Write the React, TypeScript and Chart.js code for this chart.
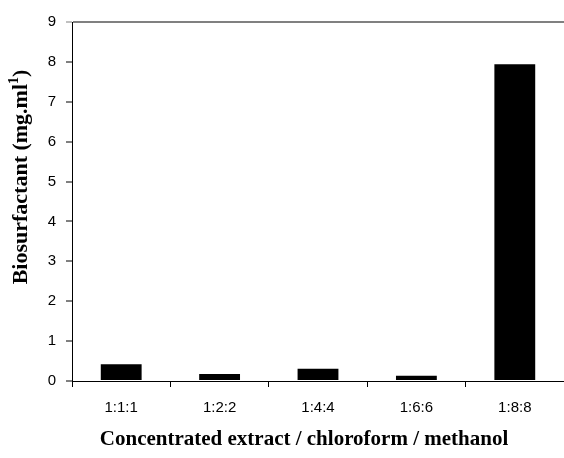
import React, { useEffect, useRef } from "react";
import { Chart, registerables } from "chart.js";

Chart.register(...registerables);

const categories = ["1:1:1", "1:2:2", "1:4:4", "1:6:6", "1:8:8"];
const biosurfactant = [0.42, 0.175, 0.31, 0.13, 7.94];
const yMin = 0;
const yMax = 9;
const yStep = 1;
const xTitle = "Concentrated extract / chloroform / methanol";
const yTitleMain = "Biosurfactant (mg.ml";
const yTitleSup = "1";
const yTitleEnd = ")";

const titlePlugin = {
  id: "axisTitles",
  afterDraw(chart: any) {
    const ctx = chart.ctx as CanvasRenderingContext2D;
    ctx.save();
    ctx.fillStyle = "#000";
    ctx.font = 'bold 21px "Liberation Serif", "Times New Roman", serif';
    ctx.textAlign = "center";
    ctx.textBaseline = "alphabetic";
    ctx.fillText(xTitle, 304, 445);

    // y title rotated
    ctx.translate(27, 177);
    ctx.rotate(-Math.PI / 2);
    ctx.textAlign = "left";
    const mainFont = 'bold 22px "Liberation Serif", "Times New Roman", serif';
    const supFont = 'bold 14px "Liberation Serif", "Times New Roman", serif';
    ctx.font = mainFont;
    const w1 = ctx.measureText(yTitleMain).width;
    const w3 = ctx.measureText(yTitleEnd).width;
    ctx.font = supFont;
    const w2 = ctx.measureText(yTitleSup).width;
    const total = w1 + w2 + w3;
    let x = -total / 2;
    ctx.font = mainFont;
    ctx.fillText(yTitleMain, x, 0);
    x += w1;
    ctx.font = supFont;
    ctx.fillText(yTitleSup, x, -9);
    x += w2;
    ctx.font = mainFont;
    ctx.fillText(yTitleEnd, x, 0);
    ctx.restore();
  },
};

export default function App() {
  const ref = useRef<HTMLCanvasElement>(null);
  useEffect(() => {
    if (!ref.current) return;
    const chart = new Chart(ref.current, {
      type: "bar",
      data: {
        labels: categories,
        datasets: [
          {
            data: biosurfactant,
            backgroundColor: "#000000",
            borderWidth: 0,
            barPercentage: 0.415,
            categoryPercentage: 1,
          },
        ],
      },
      options: {
        responsive: false,
        animation: false,
        layout: { padding: { top: 22, right: -2, left: 0, bottom: 0 } },
        plugins: { legend: { display: false }, tooltip: { enabled: false } },
        scales: {
          x: {
            afterFit(scale: any) {
              scale.height = 77;
            },
            grid: {
              display: true,
              drawOnChartArea: false,
              offset: true,
              tickLength: 6,
              color: "#000",
              tickColor: "#000",
            },
            border: { display: true, color: "#000", width: 1 },
            ticks: {
              color: "#000",
              padding: 12,
              font: { family: '"Liberation Sans", Arial, sans-serif', size: 15 },
            },
          },
          y: {
            min: yMin,
            max: yMax,
            afterFit(scale: any) {
              scale.width = 72;
            },
            grid: {
              drawOnChartArea: true,
              tickLength: 6,
              lineWidth: 2,
              color: (c: any) => (c.tick && c.tick.value === yMax ? "#808080" : "rgba(0,0,0,0)"),
              tickColor: (c: any) => (c.tick && c.tick.value === yMax ? "#808080" : "#000"),
              tickWidth: 1,
            },
            border: { display: true, color: "#000", width: 1 },
            ticks: {
              stepSize: yStep,
              color: "#000",
              padding: 10,
              font: { family: '"Liberation Sans", Arial, sans-serif', size: 15 },
            },
          },
        },
      },
      plugins: [titlePlugin],
    });
    return () => chart.destroy();
  }, []);
  return (
    <div style={{ position: "absolute", left: 0, top: 0, width: 564, height: 458, background: "#fff" }}>
      <canvas ref={ref} width={564} height={458} />
    </div>
  );
}
